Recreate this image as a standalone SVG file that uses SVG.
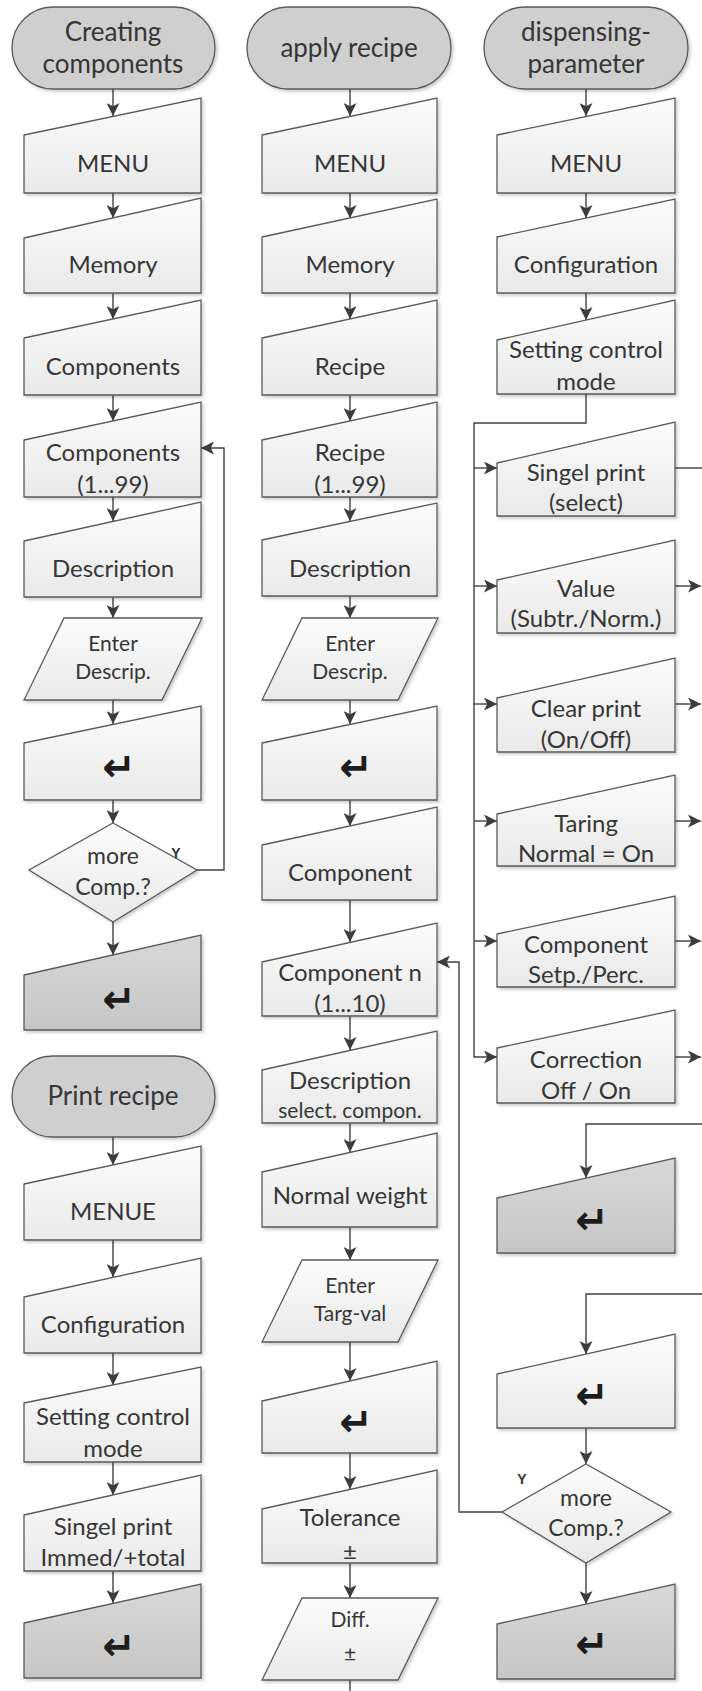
<svg xmlns="http://www.w3.org/2000/svg" width="702" height="1691" viewBox="0 0 702 1691">
<defs>
<linearGradient id="gl" x1="0" y1="0" x2="0" y2="1"><stop offset="0" stop-color="#fcfcfc"/><stop offset="1" stop-color="#e9e9e9"/></linearGradient>
<linearGradient id="gd" x1="0" y1="0" x2="0" y2="1"><stop offset="0" stop-color="#d8d8d8"/><stop offset="1" stop-color="#c6c6c6"/></linearGradient>
<filter id="sh" x="-10%" y="-10%" width="125%" height="130%"><feDropShadow dx="2" dy="2" stdDeviation="1.5" flood-color="#000" flood-opacity="0.2"/></filter>
<marker id="ar" viewBox="0 0 12 12" refX="12" refY="6" markerWidth="13" markerHeight="13" markerUnits="userSpaceOnUse" orient="auto"><path d="M0,0 L12,6 L0,12 L3,6 Z" fill="#3c3c3c"/></marker>
<style>
.b{fill:url(#gl);stroke:#5a5a5a;stroke-width:1.3;filter:url(#sh)}
.d{fill:url(#gd);stroke:#5a5a5a;stroke-width:1.3;filter:url(#sh)}
.p{fill:#cfcfcf;stroke:#5a5a5a;stroke-width:1.3;filter:url(#sh)}
.ln{fill:none;stroke:#404040;stroke-width:1.4}
.la{fill:none;stroke:#404040;stroke-width:1.4;marker-end:url(#ar)}
text{font-family:Lato,"Liberation Sans",sans-serif;fill:#363636;text-anchor:middle}
.t{font-size:24px}
.tp{font-size:26px}
.ts{font-size:21px}
.tm{font-size:23px}
.ret{font-family:"DejaVu Sans",sans-serif;font-size:40px;font-weight:bold;fill:#1e1e1e;dominant-baseline:central}
.y{font-family:"Liberation Sans",sans-serif;font-size:14px;font-weight:bold;fill:#333}
</style>
</defs>

<g id="connectors">
<path class="la" d="M113,89 V116"/>
<path class="la" d="M113,193 V218"/>
<path class="la" d="M113,293 V319"/>
<path class="la" d="M113,395 V421"/>
<path class="la" d="M113,497 V521"/>
<path class="la" d="M113,597 V618"/>
<path class="la" d="M113,700 V724"/>
<path class="la" d="M113,800 V823"/>
<path class="la" d="M113,922 V955"/>
<path class="la" d="M197,870 H224 V448 H201"/>
<path class="la" d="M113,1137 V1165"/>
<path class="la" d="M113,1240 V1277"/>
<path class="la" d="M113,1353 V1385"/>
<path class="la" d="M113,1462 V1495"/>
<path class="la" d="M113,1571 V1603"/>
<path class="la" d="M350,89 V116"/>
<path class="la" d="M350,193 V218"/>
<path class="la" d="M350,293 V319"/>
<path class="la" d="M350,395 V421"/>
<path class="la" d="M350,497 V521"/>
<path class="la" d="M350,596 V618"/>
<path class="la" d="M350,700 V724"/>
<path class="la" d="M350,800 V826"/>
<path class="la" d="M350,900 V942"/>
<path class="la" d="M350,1016 V1050"/>
<path class="la" d="M350,1123 V1152"/>
<path class="la" d="M350,1227 V1260"/>
<path class="la" d="M350,1342 V1381"/>
<path class="la" d="M350,1453 V1489"/>
<path class="la" d="M350,1563 V1598"/>
<path class="ln" d="M350,1680 V1691"/>
<path class="la" d="M502,1512 H459 V962 H437"/>
<path class="la" d="M586,89 V116"/>
<path class="la" d="M586,193 V218"/>
<path class="la" d="M586,293 V320"/>
<path class="la" d="M586,394 V423 H474 V1057 H497"/>
<path class="la" d="M474,468 H497"/>
<path class="la" d="M474,586 H497"/>
<path class="la" d="M474,704 H497"/>
<path class="la" d="M474,821 H497"/>
<path class="la" d="M474,941 H497"/>
<path class="ln" d="M675,468 H702"/>
<path class="la" d="M675,586 H701"/>
<path class="la" d="M675,704 H701"/>
<path class="la" d="M675,821 H701"/>
<path class="la" d="M675,941 H701"/>
<path class="la" d="M675,1057 H701"/>
<path class="la" d="M702,1124 H586 V1178"/>
<path class="la" d="M702,1294 H586 V1354"/>
<path class="la" d="M586,1428 V1464"/>
<path class="la" d="M586,1563 V1604"/>
</g>

<g id="creating-components"><rect class="p" x="12" y="7" width="203" height="82" rx="41"/><text class="tp" x="113" y="41">Creating</text><text class="tp" x="113" y="73">components</text></g>
<g id="l-menu"><path class="b" d="M24,135 L201,98 L201,193 L24,193 Z"/><text class="t" x="113" y="172">MENU</text></g>
<g id="l-memory"><path class="b" d="M24,238 L201,198 L201,293 L24,293 Z"/><text class="t" x="113" y="273">Memory</text></g>
<g id="l-components"><path class="b" d="M24,338 L201,300 L201,395 L24,395 Z"/><text class="t" x="113" y="375">Components</text></g>
<g id="l-components-199"><path class="b" d="M24,440 L201,402 L201,497 L24,497 Z"/><text class="t" x="113" y="461">Components</text><text class="t" x="113" y="493">(1...99)</text></g>
<g id="l-description"><path class="b" d="M24,541 L201,502 L201,597 L24,597 Z"/><text class="t" x="113" y="577">Description</text></g>
<g id="l-enter"><path class="b" d="M64,618 L202,618 L162,700 L24,700 Z"/><text class="ts" x="113" y="651">Enter</text><text class="ts" x="113" y="679">Descrip.</text></g>
<g id="l-return1"><path class="b" d="M24,743 L201,706 L201,800 L24,800 Z"/><text class="ret" x="119" y="767">↵</text></g>
<g id="l-more"><path class="b" d="M113,823 L197,870 L113,922 L29,870 Z"/><text class="tm" x="113" y="864">more</text><text class="tm" x="113" y="895">Comp.?</text><text class="y" x="176" y="858">Y</text></g>
<g id="l-return2"><path class="d" d="M24,975 L201,935 L201,1030 L24,1030 Z"/><text class="ret" x="119" y="999">↵</text></g>

<g id="print-recipe"><rect class="p" x="12" y="1056" width="203" height="81" rx="40.5"/><text class="tp" x="113" y="1105">Print recipe</text></g>
<g id="p-menue"><path class="b" d="M24,1184 L201,1146 L201,1240 L24,1240 Z"/><text class="t" x="113" y="1220">MENUE</text></g>
<g id="p-config"><path class="b" d="M24,1297 L201,1258 L201,1353 L24,1353 Z"/><text class="t" x="113" y="1333">Configuration</text></g>
<g id="p-setting"><path class="b" d="M24,1403 L201,1367 L201,1462 L24,1462 Z"/><text class="t" x="113" y="1425">Setting control</text><text class="t" x="113" y="1457">mode</text></g>
<g id="p-singel"><path class="b" d="M24,1515 L201,1475 L201,1571 L24,1571 Z"/><text class="t" x="113" y="1535">Singel print</text><text class="t" x="113" y="1566">Immed/+total</text></g>
<g id="p-return"><path class="d" d="M24,1623 L201,1584 L201,1678 L24,1678 Z"/><text class="ret" x="119" y="1646">↵</text></g>

<g id="apply-recipe"><rect class="p" x="247" y="7" width="204" height="82" rx="41"/><text class="tp" x="349" y="57">apply recipe</text></g>
<g id="m-menu"><path class="b" d="M262,135 L437,98 L437,193 L262,193 Z"/><text class="t" x="350" y="172">MENU</text></g>
<g id="m-memory"><path class="b" d="M262,237 L437,199 L437,293 L262,293 Z"/><text class="t" x="350" y="273">Memory</text></g>
<g id="m-recipe"><path class="b" d="M262,338 L437,300 L437,395 L262,395 Z"/><text class="t" x="350" y="375">Recipe</text></g>
<g id="m-recipe-199"><path class="b" d="M262,440 L437,402 L437,497 L262,497 Z"/><text class="t" x="350" y="461">Recipe</text><text class="t" x="350" y="493">(1...99)</text></g>
<g id="m-description"><path class="b" d="M262,540 L437,503 L437,596 L262,596 Z"/><text class="t" x="350" y="577">Description</text></g>
<g id="m-enter"><path class="b" d="M302,618 L438,618 L398,700 L262,700 Z"/><text class="ts" x="350" y="651">Enter</text><text class="ts" x="350" y="679">Descrip.</text></g>
<g id="m-return1"><path class="b" d="M262,743 L437,706 L437,800 L262,800 Z"/><text class="ret" x="356" y="767">↵</text></g>
<g id="m-component"><path class="b" d="M262,845 L437,807 L437,900 L262,900 Z"/><text class="t" x="350" y="881">Component</text></g>
<g id="m-component-n"><path class="b" d="M262,962 L437,923 L437,1016 L262,1016 Z"/><text class="t" x="350" y="981">Component n</text><text class="t" x="350" y="1012">(1...10)</text></g>
<g id="m-desc-select"><path class="b" d="M262,1070 L437,1031 L437,1123 L262,1123 Z"/><text class="t" x="350" y="1089">Description</text><text class="ts" x="350" y="1118">select. compon.</text></g>
<g id="m-normal-weight"><path class="b" d="M262,1172 L437,1133 L437,1227 L262,1227 Z"/><text class="t" x="350" y="1204">Normal weight</text></g>
<g id="m-enter-targ"><path class="b" d="M302,1260 L438,1260 L398,1342 L262,1342 Z"/><text class="ts" x="350" y="1293">Enter</text><text class="ts" x="350" y="1321">Targ-val</text></g>
<g id="m-return2"><path class="b" d="M262,1401 L437,1361 L437,1453 L262,1453 Z"/><text class="ret" x="356" y="1422">↵</text></g>
<g id="m-tolerance"><path class="b" d="M262,1509 L437,1470 L437,1563 L262,1563 Z"/><text class="t" x="350" y="1526">Tolerance</text><text class="t" x="350" y="1560">±</text></g>
<g id="m-diff"><path class="b" d="M302,1598 L438,1598 L398,1680 L262,1680 Z"/><text class="ts" x="350" y="1627">Diff.</text><text class="ts" x="350" y="1661">±</text></g>

<g id="dispensing-parameter"><rect class="p" x="484" y="7" width="204" height="82" rx="41"/><text class="tp" x="586" y="41">dispensing-</text><text class="tp" x="586" y="73">parameter</text></g>
<g id="r-menu"><path class="b" d="M497,135 L675,98 L675,193 L497,193 Z"/><text class="t" x="586" y="172">MENU</text></g>
<g id="r-config"><path class="b" d="M497,237 L675,199 L675,293 L497,293 Z"/><text class="t" x="586" y="273">Configuration</text></g>
<g id="r-setting"><path class="b" d="M497,340 L675,300 L675,394 L497,394 Z"/><text class="t" x="586" y="358">Setting control</text><text class="t" x="586" y="390">mode</text></g>
<g id="r-singel"><path class="b" d="M497,463 L675,422 L675,516 L497,516 Z"/><text class="t" x="586" y="481">Singel print</text><text class="t" x="586" y="511">(select)</text></g>
<g id="r-value"><path class="b" d="M497,580 L675,540 L675,633 L497,633 Z"/><text class="t" x="586" y="597">Value</text><text class="t" x="586" y="627">(Subtr./Norm.)</text></g>
<g id="r-clear"><path class="b" d="M497,698 L675,658 L675,752 L497,752 Z"/><text class="t" x="586" y="717">Clear print</text><text class="t" x="586" y="748">(On/Off)</text></g>
<g id="r-taring"><path class="b" d="M497,814 L675,775 L675,866 L497,866 Z"/><text class="t" x="586" y="832">Taring</text><text class="t" x="586" y="862">Normal = On</text></g>
<g id="r-component"><path class="b" d="M497,934 L675,896 L675,987 L497,987 Z"/><text class="t" x="586" y="953">Component</text><text class="t" x="586" y="983">Setp./Perc.</text></g>
<g id="r-correction"><path class="b" d="M497,1048 L675,1010 L675,1103 L497,1103 Z"/><text class="t" x="586" y="1068">Correction</text><text class="t" x="586" y="1099">Off / On</text></g>
<g id="r-return1"><path class="d" d="M497,1198 L675,1158 L675,1253 L497,1253 Z"/><text class="ret" x="592" y="1220">↵</text></g>
<g id="r-return2"><path class="b" d="M497,1374 L675,1334 L675,1428 L497,1428 Z"/><text class="ret" x="592" y="1395">↵</text></g>
<g id="r-more"><path class="b" d="M586,1464 L671,1512 L586,1563 L502,1512 Z"/><text class="tm" x="586" y="1506">more</text><text class="tm" x="586" y="1536">Comp.?</text><text class="y" x="522" y="1484">Y</text></g>
<g id="r-return3"><path class="d" d="M497,1624 L675,1584 L675,1679 L497,1679 Z"/><text class="ret" x="592" y="1644">↵</text></g>
</svg>
